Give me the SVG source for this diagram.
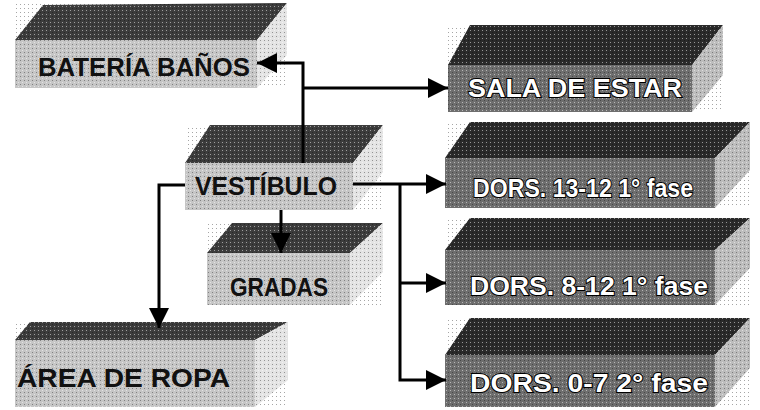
<svg xmlns="http://www.w3.org/2000/svg" width="760" height="410" viewBox="0 0 760 410">
<defs>
<style>
.top{fill:#3c3c3c}
.topd{fill:#2a2a2a}
.side{fill:#e4e4e4}
.sided{fill:#bdbdbd}
.front{fill:#c6c6c6}
.frontd{fill:#6e6e6e}
.lbl{font-family:"Liberation Sans",Arial,sans-serif;font-weight:bold;font-size:26px;fill:#111}
.lbld{font-family:"Liberation Sans",Arial,sans-serif;font-weight:bold;font-size:25px;fill:#fff;stroke:#000;stroke-width:2;paint-order:stroke}
.con{fill:none;stroke:#000;stroke-width:3;marker-end:url(#arr)}
</style>
<pattern id="dots" width="4" height="4" patternUnits="userSpaceOnUse">
<rect x="0" y="0" width="1" height="1" fill="#000" opacity="0.35"/>
<rect x="2" y="2" width="1" height="1" fill="#fff" opacity="0.5"/>
</pattern>
<marker id="arr" viewBox="0 0 20 20" refX="20" refY="10" markerWidth="20" markerHeight="20" markerUnits="userSpaceOnUse" orient="auto">
<path d="M0,0 L20,10 L0,20 z" fill="#000"/>
</marker>
</defs>

<g id="bateria">
<polygon class="top" points="15,40 43,5 287,3 257,40"/>
<polygon class="side" points="257,40 287,3 287,55 257,88"/>
<rect class="front" x="15" y="40" width="242" height="48"/>
<rect x="15" y="3" width="272" height="85" fill="url(#dots)"/>
<text class="lbl" x="38" y="76" textLength="212" lengthAdjust="spacingAndGlyphs">BATERÍA BAÑOS</text>
</g>

<g id="sala">
<polygon class="topd" points="448,65 470,25 723,25 692,65"/>
<polygon class="sided" points="692,65 723,25 723,75 692,112"/>
<rect class="frontd" x="448" y="65" width="244" height="47"/>
<rect x="448" y="25" width="275" height="87" fill="url(#dots)"/>
<text class="lbld" x="468" y="97" textLength="214" lengthAdjust="spacingAndGlyphs">SALA DE ESTAR</text>
</g>

<g id="vestibulo">
<polygon class="top" points="185,163 210,125 383,125 353,163"/>
<polygon class="side" points="353,163 383,125 383,172 353,210"/>
<rect class="front" x="185" y="163" width="168" height="47"/>
<rect x="185" y="125" width="198" height="85" fill="url(#dots)"/>
<text class="lbl" x="195" y="195" textLength="142" lengthAdjust="spacingAndGlyphs">VESTÍBULO</text>
</g>

<g id="gradas">
<polygon class="top" points="207,253 232,223 383,223 350,253"/>
<polygon class="side" points="350,253 383,223 383,272 350,305"/>
<rect class="front" x="207" y="253" width="143" height="52"/>
<rect x="207" y="223" width="176" height="82" fill="url(#dots)"/>
<text class="lbl" x="230" y="296" textLength="98" lengthAdjust="spacingAndGlyphs">GRADAS</text>
</g>

<g id="dors1">
<polygon class="topd" points="445,158 470,122 750,122 715,158"/>
<polygon class="sided" points="715,158 750,122 750,170 715,208"/>
<rect class="frontd" x="445" y="158" width="270" height="50"/>
<rect x="445" y="122" width="305" height="86" fill="url(#dots)"/>
<text class="lbld" x="473" y="197" textLength="220" lengthAdjust="spacingAndGlyphs">DORS. 13-12 1° fase</text>
</g>

<g id="dors2">
<polygon class="topd" points="445,250 470,218 750,218 715,250"/>
<polygon class="sided" points="715,250 750,218 750,268 715,305"/>
<rect class="frontd" x="445" y="250" width="270" height="55"/>
<rect x="445" y="218" width="305" height="87" fill="url(#dots)"/>
<text class="lbld" x="470" y="295" textLength="238" lengthAdjust="spacingAndGlyphs">DORS. 8-12 1° fase</text>
</g>

<g id="dors3">
<polygon class="topd" points="445,355 470,318 750,318 715,355"/>
<polygon class="sided" points="715,355 750,318 750,368 715,407"/>
<rect class="frontd" x="445" y="355" width="270" height="52"/>
<rect x="445" y="318" width="305" height="89" fill="url(#dots)"/>
<text class="lbld" x="470" y="392" textLength="238" lengthAdjust="spacingAndGlyphs">DORS. 0-7 2° fase</text>
</g>

<g id="area">
<polygon class="top" points="15,340 30,322 288,322 255,340"/>
<polygon class="side" points="255,340 288,322 288,380 255,407"/>
<rect class="front" x="15" y="340" width="240" height="67"/>
<rect x="15" y="322" width="273" height="85" fill="url(#dots)"/>
<text class="lbl" x="17" y="387" textLength="213" lengthAdjust="spacingAndGlyphs">ÁREA DE ROPA</text>
</g>

<g id="connectors">
<path class="con" d="M303,163 V63 H257"/>
<path class="con" d="M303,88 H448"/>
<path class="con" d="M353,184 H446"/>
<path class="con" d="M400,184 V380 H446"/>
<path class="con" d="M400,283 H446"/>
<path class="con" d="M281,210 V253"/>
<path class="con" d="M185,185 H159 V328"/>
</g>
</svg>
